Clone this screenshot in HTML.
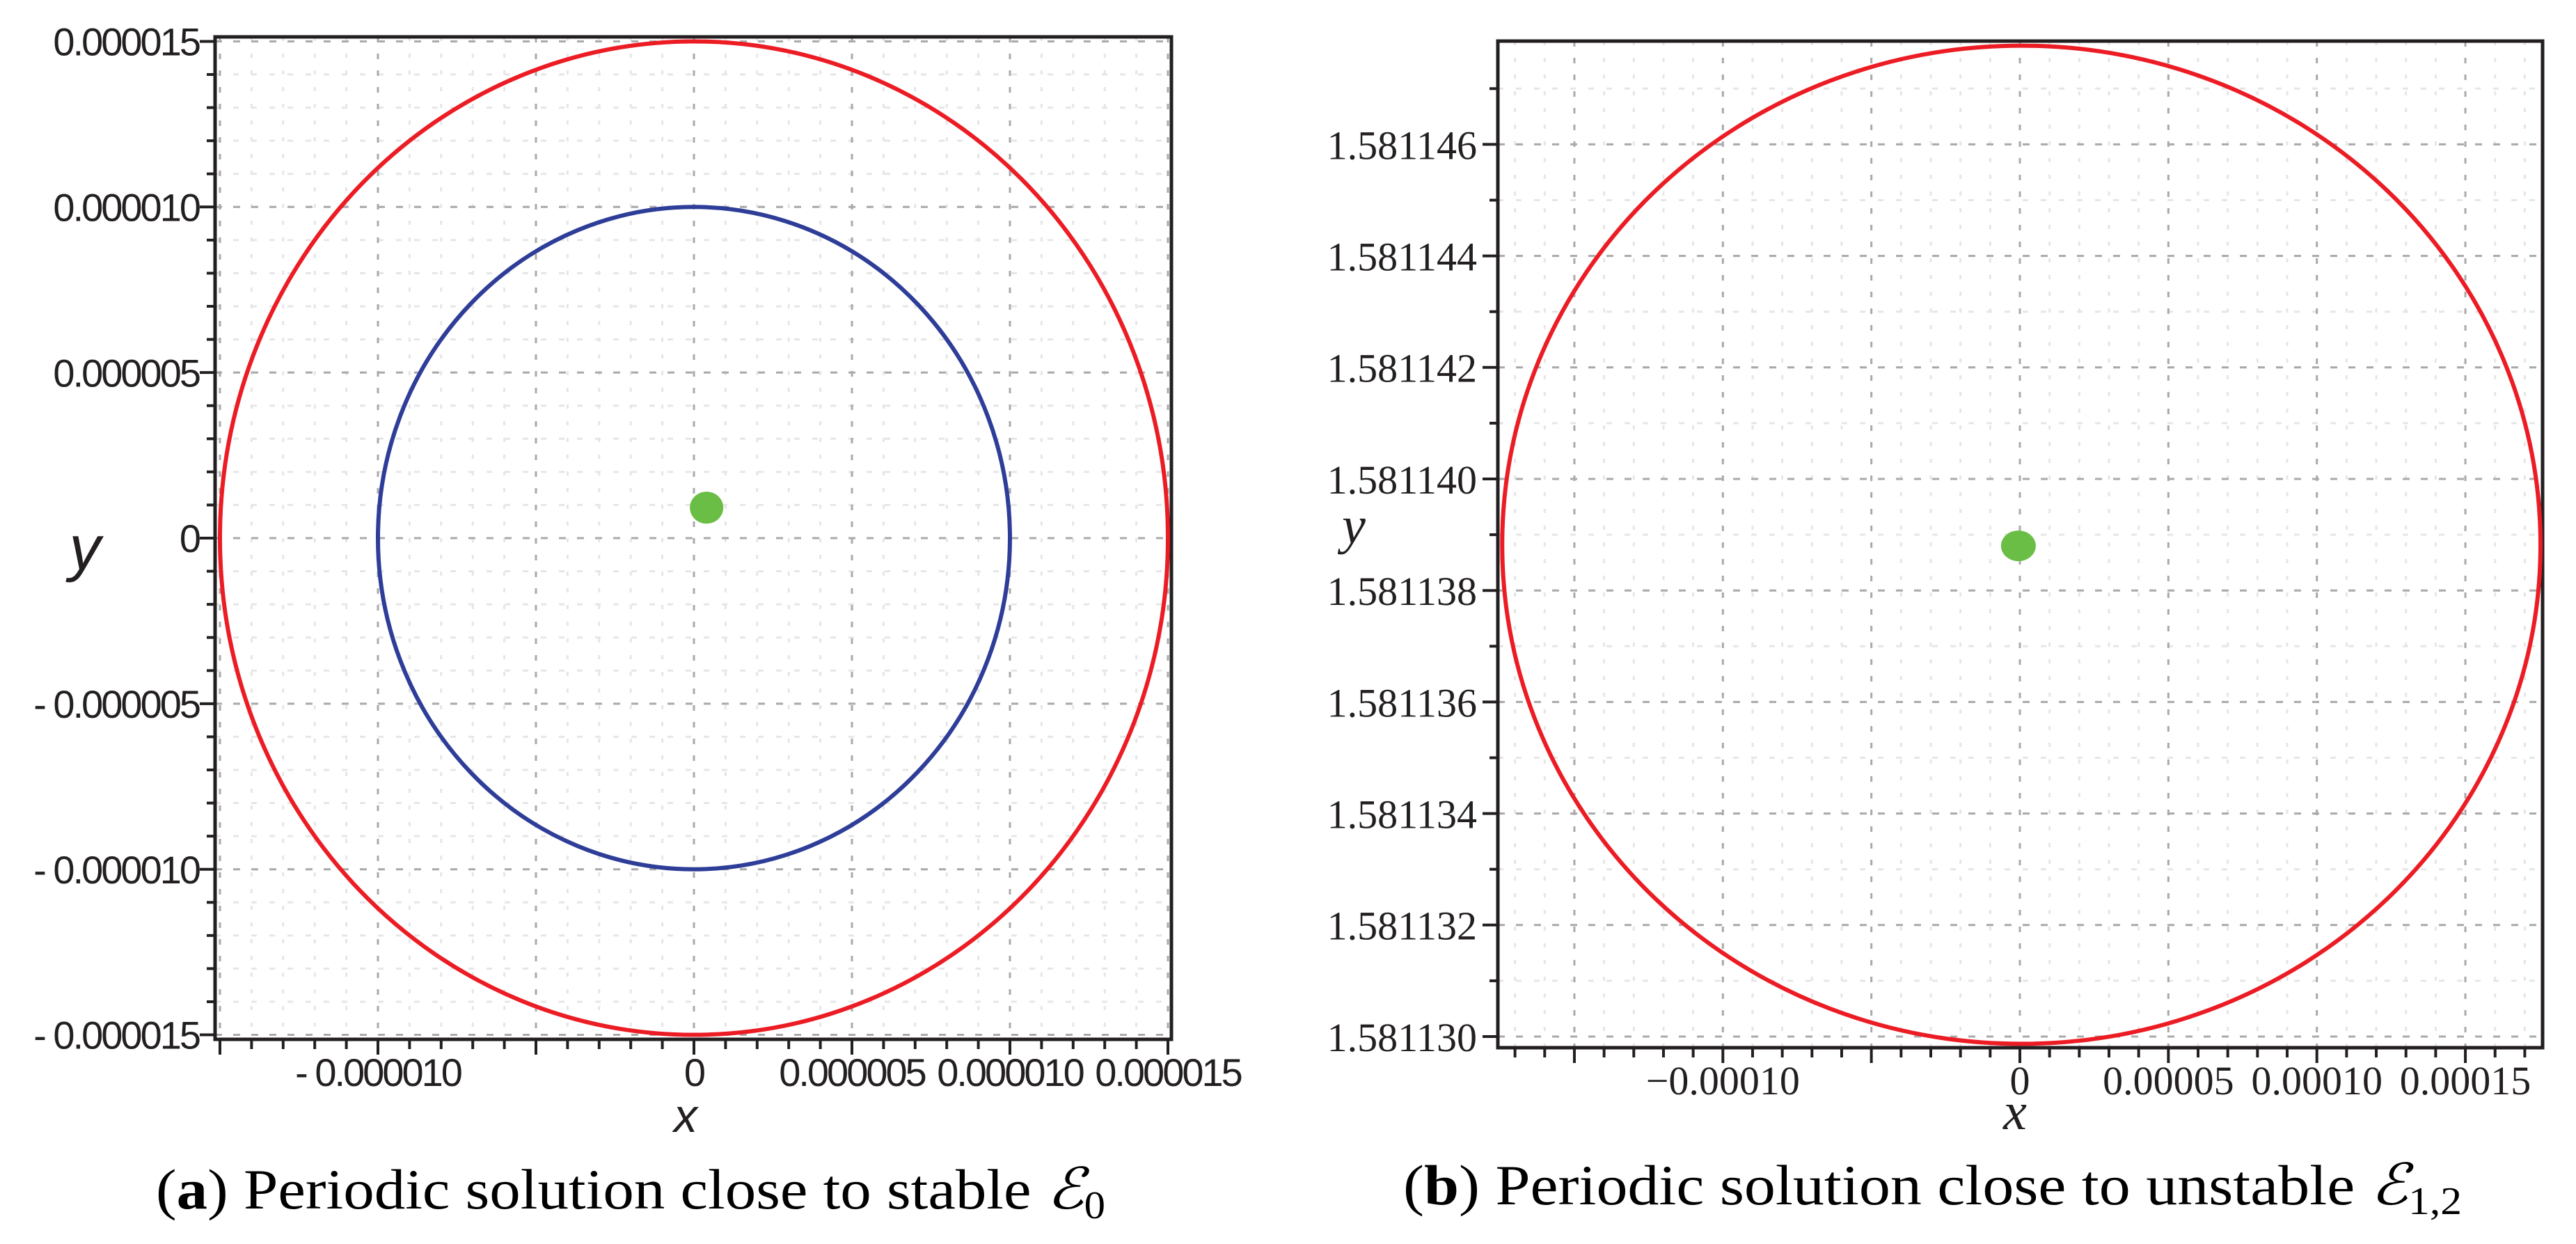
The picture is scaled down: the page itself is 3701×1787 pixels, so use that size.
<!DOCTYPE html>
<html><head><meta charset="utf-8"><style>
html,body{margin:0;padding:0;background:#fff;}
svg{display:block;}
</style></head><body>
<svg id="fig" xmlns="http://www.w3.org/2000/svg" width="3701" height="1787" viewBox="0 0 3701 1787">
<rect width="3701" height="1787" fill="#fff"/>
<g id="pa"></g>
<g id="pb"></g>
<text x="224" y="1736" font-family="Liberation Serif, serif" font-size="82" textLength="1364" lengthAdjust="spacingAndGlyphs">(<tspan font-weight="bold">a</tspan>) Periodic solution close to stable <tspan font-style="italic">ℰ</tspan><tspan font-size="56" dy="14">0</tspan></text>
<text x="2016" y="1730" font-family="Liberation Serif, serif" font-size="82" textLength="1521" lengthAdjust="spacingAndGlyphs">(<tspan font-weight="bold">b</tspan>) Periodic solution close to unstable <tspan font-style="italic">ℰ</tspan><tspan font-size="56" dy="14">1,2</tspan></text>
</svg>
<script>
// ---- Panel A data ----
const aXTicks = [-0.000010, 0, 0.000005, 0.000010, 0.000015];
const aXTickLabels = ["- 0.000010", "0", "0.000005", "0.000010", "0.000015"];
const aYTicks = [0.000015, 0.000010, 0.000005, 0, -0.000005, -0.000010, -0.000015];
const aYTickLabels = ["0.000015", "0.000010", "0.000005", "0", "- 0.000005", "- 0.000010", "- 0.000015"];
const aOrbitRadii = [0.000015, 0.000010];
const aOrbitColors = ["#ec1c24", "#2e3d98"];
const aOrbitCenter = [0, 0];
const aEquilibrium = [0.0000004, 0.00000092];
// ---- Panel B data ----
const bXTicks = [-0.00010, 0, 0.00005, 0.00010, 0.00015];
const bXTickLabels = ["\u22120.00010", "0", "0.00005", "0.00010", "0.00015"];
const bYTicks = [1.581146, 1.581144, 1.581142, 1.581140, 1.581138, 1.581136, 1.581134, 1.581132, 1.581130];
const bYTickLabels = ["1.581146", "1.581144", "1.581142", "1.581140", "1.581138", "1.581136", "1.581134", "1.581132", "1.581130"];
const bOrbitCenter = [0.0000005, 1.58113882];
const bOrbitRadius = [0.0001748, 0.00000895];
const bEquilibrium = [-0.0000005, 1.5811388];

const NS = "http://www.w3.org/2000/svg";
function mk(parent, tag, attrs) {
  const e = document.createElementNS(NS, tag);
  for (const k in attrs) e.setAttribute(k, attrs[k]);
  parent.appendChild(e);
  return e;
}

function panel(g, cfg) {
  const X = v => cfg.x0 + (v - cfg.xv0) * cfg.sx;
  const Y = v => cfg.y0 - (v - cfg.yv0) * cfg.sy;
  // minor grid
  for (let v = cfg.xmin; v <= cfg.xmax + 1e-12; v += cfg.xMinor) {
    const l = mk(g, "line", {x1: X(v), x2: X(v), y1: cfg.top, y2: cfg.bottom, stroke: "#e6e6e6", "stroke-width": 3, "stroke-dasharray": "6 18"});
    
    
  }
  for (let v = cfg.ymin; v <= cfg.ymax + 1e-12; v += cfg.yMinor) {
    const l = mk(g, "line", {x1: cfg.left, x2: cfg.right, y1: Y(v), y2: Y(v), stroke: "#e6e6e6", "stroke-width": 3, "stroke-dasharray": "8 18"});
    
    
  }
  // major grid
  for (const v of cfg.xMajorGrid) {
    const l = mk(g, "line", {x1: X(v), x2: X(v), y1: cfg.top, y2: cfg.bottom, stroke: "#aaa", "stroke-width": 3, "stroke-dasharray": "8 16"});
    
    
  }
  for (const v of cfg.yMajorGrid) {
    const l = mk(g, "line", {x1: cfg.left, x2: cfg.right, y1: Y(v), y2: Y(v), stroke: "#aaa", "stroke-width": 3, "stroke-dasharray": "10 16"});
    
    
  }
  // ticks
  for (let v = cfg.xmin; v <= cfg.xmax + 1e-12; v += cfg.xMinor) {
    const major = cfg.xMajorGrid.some(m => Math.abs(m - v) < cfg.xMinor / 10);
    const t = mk(g, "line", {x1: X(v), x2: X(v), y1: cfg.bottom, y2: cfg.bottom + (major ? 22 : 14), stroke: "#231f20", "stroke-width": 4});
    
    
  }
  for (let v = cfg.ymin; v <= cfg.ymax + 1e-12; v += cfg.yMinor) {
    const major = cfg.yMajorGrid.some(m => Math.abs(m - v) < cfg.yMinor / 10);
    const t = mk(g, "line", {x1: cfg.left - (major ? 22 : 12), x2: cfg.left, y1: Y(v), y2: Y(v), stroke: "#231f20", "stroke-width": 4});
    
    
  }
  // frame
  const f = mk(g, "rect", {x: cfg.left, y: cfg.top, width: cfg.right - cfg.left, height: cfg.bottom - cfg.top, fill: "none", stroke: "#231f20", "stroke-width": 5});
  
  
  // tick labels
  cfg.xTicks.forEach((v, i) => {
    const t = mk(g, "text", {x: X(v) + (cfg.xLabelShift[i] || 0), y: cfg.xLabelY, "text-anchor": "middle", "font-family": cfg.font, "font-size": cfg.fs, "letter-spacing": cfg.ls, fill: "#231f20"});
    t.textContent = cfg.xLabels[i];
    
    
  });
  cfg.yTicks.forEach((v, i) => {
    const t = mk(g, "text", {x: cfg.yLabelX, y: Y(v) + cfg.fs * 0.36, "text-anchor": "end", "font-family": cfg.font, "font-size": cfg.fs, "letter-spacing": cfg.ls, fill: "#231f20"});
    t.textContent = cfg.yLabels[i];
    
    
  });
  return {X, Y};
}

// Panel A
const ga = document.getElementById("pa");
const A = panel(ga, {
  x0: 997, xv0: 0, sx: 45.4e6, y0: 773, yv0: 0, sy: 47.57e6,
  left: 309, right: 1683, top: 53, bottom: 1493,
  xmin: -0.000015, xmax: 0.000015, xMinor: 0.000001,
  ymin: -0.000015, ymax: 0.000015, yMinor: 0.000001,
  xMajorGrid: [-0.000015, -0.00001, -0.000005, 0, 0.000005, 0.00001, 0.000015],
  yMajorGrid: [-0.000015, -0.00001, -0.000005, 0, 0.000005, 0.00001, 0.000015],
  xTicks: aXTicks, xLabels: aXTickLabels, xLabelShift: [0, 0, 0, 0, 0],
  yTicks: aYTicks, yLabels: aYTickLabels,
  xLabelY: 1560, yLabelX: 286, font: "Liberation Sans, sans-serif", fs: 56, ls: -3
});
aOrbitRadii.forEach((r, i) => {
  const c = mk(ga, "ellipse", {cx: A.X(aOrbitCenter[0]), cy: A.Y(aOrbitCenter[1]), rx: r * 45.4e6, ry: r * 47.57e6, fill: "none", stroke: aOrbitColors[i], "stroke-width": 6});
  
  
});
const da = mk(ga, "ellipse", {cx: A.X(aEquilibrium[0]), cy: A.Y(aEquilibrium[1]), rx: 24, ry: 23, fill: "#6abd45"});


const axA = mk(ga, "text", {x: 985, y: 1626, "text-anchor": "middle", "font-family": "Liberation Sans, sans-serif", "font-style": "italic", "font-size": 68, fill: "#231f20"});
axA.textContent = "x";


const ayA = mk(ga, "text", {x: 122, y: 818, "text-anchor": "middle", "font-family": "Liberation Sans, sans-serif", "font-style": "italic", "font-size": 90, fill: "#231f20"});
ayA.textContent = "y";



// Panel B
const gb = document.getElementById("pb");
const B = panel(gb, {
  x0: 2902, xv0: 0, sx: 42.67e5, y0: 1489, yv0: 1.581130, sy: 80.1e6,
  left: 2152, right: 3653, top: 59, bottom: 1505,
  xmin: -0.00017, xmax: 0.00017, xMinor: 0.00001,
  ymin: 1.581130, ymax: 1.581147, yMinor: 0.000001,
  xMajorGrid: [-0.00015, -0.0001, -0.00005, 0, 0.00005, 0.0001, 0.00015],
  yMajorGrid: [1.58113, 1.581132, 1.581134, 1.581136, 1.581138, 1.58114, 1.581142, 1.581144, 1.581146],
  xTicks: bXTicks, xLabels: bXTickLabels, xLabelShift: [0, 0, 0, 0, 0],
  yTicks: bYTicks, yLabels: bYTickLabels,
  xLabelY: 1572, yLabelX: 2122, font: "Liberation Serif, serif", fs: 58, ls: 0
});
const cb = mk(gb, "ellipse", {cx: B.X(bOrbitCenter[0]), cy: B.Y(bOrbitCenter[1]), rx: bOrbitRadius[0] * 42.67e5, ry: bOrbitRadius[1] * 80.1e6, fill: "none", stroke: "#ec1c24", "stroke-width": 6});


const db = mk(gb, "ellipse", {cx: B.X(bEquilibrium[0]), cy: B.Y(bEquilibrium[1]), rx: 25, ry: 22, fill: "#6abd45"});


const axB = mk(gb, "text", {x: 2895, y: 1622, "text-anchor": "middle", "font-family": "Liberation Serif, serif", "font-style": "italic", "font-size": 76, fill: "#231f20"});
axB.textContent = "x";


const ayB = mk(gb, "text", {x: 1945, y: 780, "text-anchor": "middle", "font-family": "Liberation Serif, serif", "font-style": "italic", "font-size": 76, fill: "#231f20"});
ayB.textContent = "y";


</script>
</body></html>
